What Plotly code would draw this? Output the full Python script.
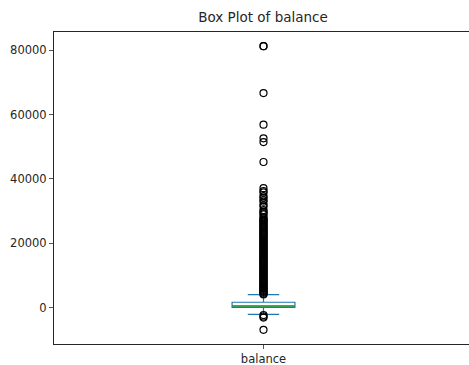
import plotly.graph_objects as go

# ---- data ----
category = "balance"
q1 = 122
median = 550
q3 = 1708
lower_whisker = -2049
upper_whisker = 4087

outliers_high = [
    81204, 81204, 66653, 56831, 52587, 51439, 45248,
    37127, 36252, 35800, 34646, 34230, 33443, 32948, 31868, 31472,
    30323, 29887, 29340, 28984, 28128, 27733, 27359, 27069,
    26765, 26452, 26135, 25824, 25507, 25208, 24917, 24598, 24299, 23991,
    23663, 23372, 23076, 22790, 22503, 22171, 21880, 21586, 21244, 20951,
    20655, 20330, 20041, 19732, 19448, 19137, 18845, 18521, 18226, 17934,
    17651, 17346, 17025, 16740, 16426, 16143, 15845, 15527, 15232, 14948,
    14633, 14345, 14053, 13748, 13450, 13162, 12856, 12566, 12261, 11972,
    11683, 11376, 11087, 10795, 10483, 10197, 9904, 9612, 9317, 9021,
    8733, 8440, 8148, 7859, 7561, 7272, 6981, 6692, 6401, 6112,
    5825, 5536, 5248, 4960, 4671, 4385, 4136,
]
outliers_low = [-2282, -2712, -3058, -6847]

box_width = 0.15
x_pos = 1

fig = go.Figure()
fig.add_trace(go.Box(
    x=[x_pos], q1=[q1], median=[median], q3=[q3],
    lowerfence=[lower_whisker], upperfence=[upper_whisker],
    width=box_width, whiskerwidth=0.5, boxpoints=False,
    line=dict(color="#1f77b4", width=1.2),
    fillcolor="rgba(0,0,0,0)", showlegend=False, hoverinfo="skip",
))
fig.add_trace(go.Scatter(
    x=[x_pos - box_width / 2, x_pos + box_width / 2], y=[median, median],
    mode="lines", line=dict(color="#2ca02c", width=1.4),
    showlegend=False, hoverinfo="skip",
))
all_out = outliers_high + outliers_low
fig.add_trace(go.Scatter(
    x=[x_pos] * len(all_out), y=all_out, mode="markers",
    marker=dict(symbol="circle-open", size=7, color="black",
                line=dict(width=1.2, color="black")),
    showlegend=False, hoverinfo="skip",
))

fig.update_layout(
    width=469, height=365,
    margin=dict(l=54, r=0, t=32, b=21),
    plot_bgcolor="white", paper_bgcolor="white",
    font=dict(family="DejaVu Sans", size=11.5, color="#262626"),
    title=dict(text="Box Plot of balance", x=(263 - 54) / 415, xref="paper",
               xanchor="center", y=1 - 17 / 365, yref="container",
               yanchor="middle",
               font=dict(family="DejaVu Sans", size=13.5, color="#262626")),
)
fig.update_xaxes(
    range=[0.5, 0.5 + 415 / 419], tickvals=[x_pos], ticktext=[category],
    showline=True, linecolor="#262626", linewidth=1, mirror=True,
    ticks="outside", ticklen=4, tickcolor="#555", showgrid=False, zeroline=False,
)
fig.update_yaxes(
    range=[-11250, 85606], tickvals=[0, 20000, 40000, 60000, 80000],
    ticktext=["0", "20000", "40000", "60000", "80000"],
    showline=True, linecolor="#262626", linewidth=1, mirror=False,
    ticks="outside", ticklen=4, tickcolor="#555", showgrid=False, zeroline=False,
)

fig.write_html(
    "out.html",
    config={"displayModeBar": False, "staticPlot": True},
    post_script="document.body.style.margin='0';document.body.style.overflow='hidden';",
)
